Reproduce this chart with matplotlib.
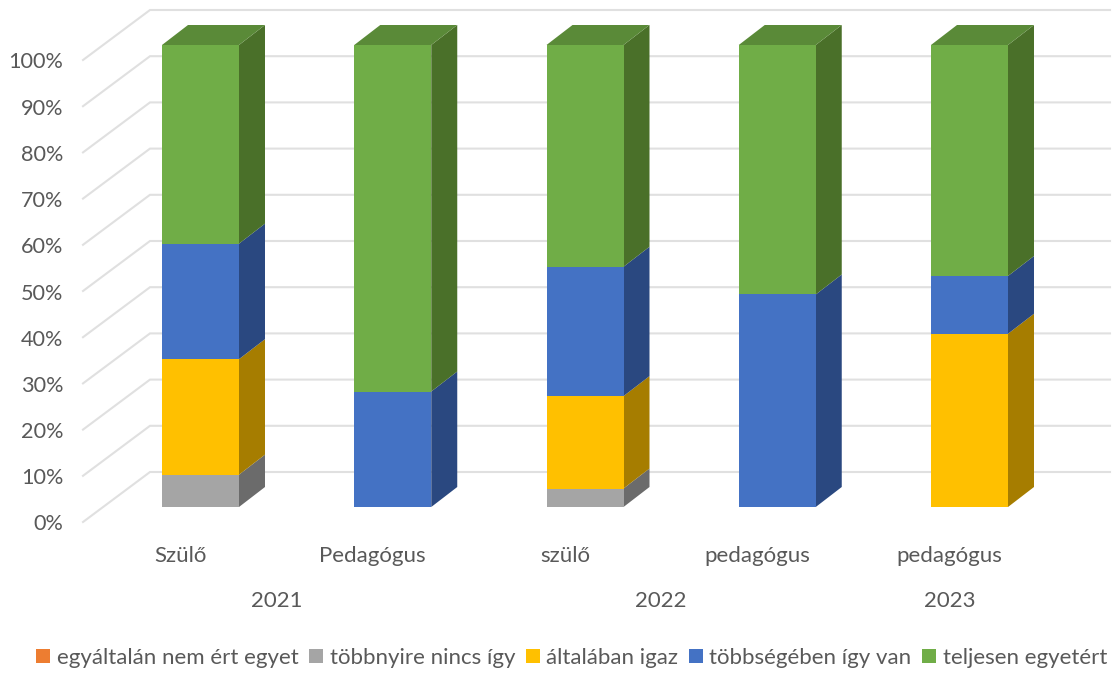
import numpy as np
import matplotlib
matplotlib.use("Agg")
import matplotlib.pyplot as plt
from matplotlib.patches import Polygon, Patch

plt.rcParams['font.family'] = ['Lato', 'DejaVu Sans']

categories = ["Szülő", "Pedagógus", "szülő", "pedagógus", "pedagógus"]
years = ["2021", "2022", "2023"]
year_spans = [(0, 1), (2, 3), (4, 4)]
ticks = [0, 10, 20, 30, 40, 50, 60, 70, 80, 90, 100]
series_names = ["egyáltalán nem ért egyet", "többnyire nincs így", "általában igaz",
                "többségében így van", "teljesen egyetért"]
nem_ert = [0, 0, 0, 0, 0]
tobbnyire = [7, 0, 4, 0, 0]
altalaban = [25, 0, 20, 0, 37.5]
tobbsegeben = [25, 25, 28, 46, 12.5]
teljesen = [43, 75, 48, 54, 50]
series = [nem_ert, tobbnyire, altalaban, tobbsegeben, teljesen]

front = ["#ED7D31", "#A5A5A5", "#FFC000", "#4472C4", "#70AD47"]
side = ["#A9561F", "#6B6B6B", "#A67D00", "#2A4880", "#4A7029"]
top = ["#C96A29", "#8A8A8A", "#D9A300", "#38609F", "#5A8A38"]

W, H = 1112, 673
px_per_cat = 192.25
px_per_pct = 4.62
x0_px, y0_px = 200.5, 507
txt = "#595959"
fs = 16

fig = plt.figure(figsize=(W / 100, H / 100), dpi=100)
ax = fig.add_axes([0, 0, 1, 1])
ax.set_xlim(-x0_px / px_per_cat, (W - x0_px) / px_per_cat)
ax.set_ylim((y0_px - H) / px_per_pct, y0_px / px_per_pct)
ax.axis("off")

dx_px = lambda p: p / px_per_cat
dy_px = lambda p: p / px_per_pct

# depth of a bar and position of the floor / wall grid
bar_w = 77 / px_per_cat
ddx, ddy = dx_px(26), dy_px(20)
gx0 = dx_px(83 - x0_px)
gx1 = dx_px(150 - x0_px)
gx2 = dx_px(1110 - x0_px)
for t in ticks:
    y_front = t + dy_px(507 - 522)
    y_back = t + dy_px(507 - 472)
    ax.plot([gx0, gx1, gx2], [y_front, y_back, y_back], color="#E0E0E0", lw=1.5,
            solid_joinstyle="miter", zorder=1)
    ax.text(dx_px(63.5 - x0_px), y_front - dy_px(2.5), f"{t}%", ha="right", va="center",
            fontsize=15.6, color=txt)

x = np.arange(len(categories), dtype=float)
bottom = np.zeros(len(categories))
for i, vals in enumerate(series):
    vals = np.array(vals, dtype=float)
    ax.bar(x, vals, bar_w, bottom=bottom, color=front[i], zorder=4)
    for xi, b, v in zip(x, bottom, vals):
        if v <= 0:
            continue
        xr = xi + bar_w / 2
        ax.add_patch(Polygon([(xr, b), (xr + ddx, b + ddy), (xr + ddx, b + v + ddy), (xr, b + v)],
                             closed=True, fc=side[i], ec="none", zorder=3))
    bottom += vals

# the top of each column
for xi, total in zip(x, bottom):
    xl, xr = xi - bar_w / 2, xi + bar_w / 2
    ax.add_patch(Polygon([(xl, total), (xr, total), (xr + ddx, total + ddy), (xl + ddx, total + ddy)],
                         closed=True, fc=top[4], ec="none", zorder=3))

label_shift = dx_px(-20)
for xi, c in zip(x, categories):
    ax.text(xi + label_shift, dy_px(507 - 556), c, ha="center", va="center", fontsize=fs, color=txt)
for yr, (a, b) in zip(years, year_spans):
    ax.text((x[a] + x[b]) / 2 + label_shift, dy_px(507 - 601), yr, ha="center", va="center",
            fontsize=fs, color=txt)

handles = [Patch(fc=c, ec="none") for c in front]
ax.legend(handles, series_names, ncol=5, loc="center", bbox_to_anchor=(571.5 / W, 1 - 658 / H),
          bbox_transform=fig.transFigure, frameon=False, fontsize=fs, labelcolor=txt,
          handlelength=0.63, handleheight=0.63, handletextpad=0.3, columnspacing=0.47,
          borderpad=0, borderaxespad=0)

fig.savefig("out.png", dpi=100)
